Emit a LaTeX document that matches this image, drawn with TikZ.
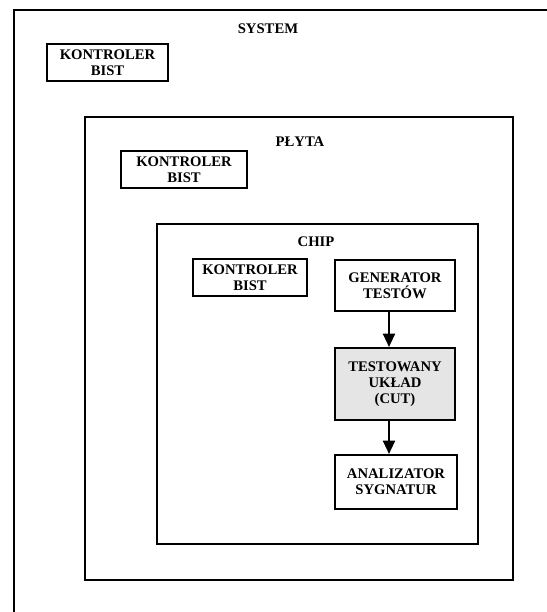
\documentclass[tikz,border=0pt]{standalone}
\usepackage{fontspec}
\setmainfont{Liberation Serif}
\usepackage{tikz}
\usetikzlibrary{arrows.meta, positioning}
\tikzset{
  frame/.style={
    rectangle, draw=black, line width=1.5pt,
    inner sep=0pt
  },
  block/.style={
    rectangle, draw=black, line width=1.5pt, fill=white,
    inner sep=1pt, align=center,
    font=\fontsize{11}{12}\selectfont\bfseries
  },
  title/.style={font=\fontsize{11}{12}\selectfont\bfseries},
  arrow/.style={line width=1.5pt, -{Triangle[length=10pt, width=9pt]}},
}
\begin{document}
\begin{tikzpicture}[x=0.75pt, y=-0.75pt]
  \useasboundingbox (0,0) rectangle (547,612);
  \clip (0,0) rectangle (547,612);

  % frames
  \node (system) [frame, minimum width=420.75pt, minimum height=472.5pt] at (294.5,325) {};
  \node (plyta)  [frame, minimum width=321pt, minimum height=347.25pt] at (299,348.5) {};
  \node (chip)   [frame, minimum width=240.75pt, minimum height=240pt] at (317.5,384) {};

  \node (systitle)  [title] at (268,29)  {SYSTEM};
  \node (plytitle)  [title] at (300,142) {PŁYTA};
  \node (chiptitle) [title] at (316,242) {CHIP};

  % blocks
  \node (sysbist)  [block, minimum width=90.75pt, minimum height=27.75pt] at (107.5,62.5) {KONTROLER\\BIST};
  \node (plybist)  [block, minimum width=94.5pt, minimum height=27.75pt] at (184,169.5) {KONTROLER\\BIST};
  \node (chipbist) [block, minimum width=85.5pt, minimum height=27.75pt] at (250,277.5) {KONTROLER\\BIST};

  \node (gen) [block, minimum width=90pt, minimum height=38.25pt] at (395,285.5) {GENERATOR\\TESTÓW};
  \node (cut) [block, fill=black!10, minimum width=90pt, minimum height=54pt] at (395,384) {TESTOWANY\\UKŁAD\\(CUT)};
  \node (ana) [block, minimum width=91.5pt, minimum height=40.5pt] at (396,482) {ANALIZATOR\\SYGNATUR};

  \draw [arrow] ([xshift=-4.5pt]gen.south) -- ([xshift=-4.5pt]cut.north);
  \draw [arrow] ([xshift=-4.5pt]cut.south) -- ([xshift=-4.5pt]cut.south |- ana.north);
\end{tikzpicture}
\end{document}
